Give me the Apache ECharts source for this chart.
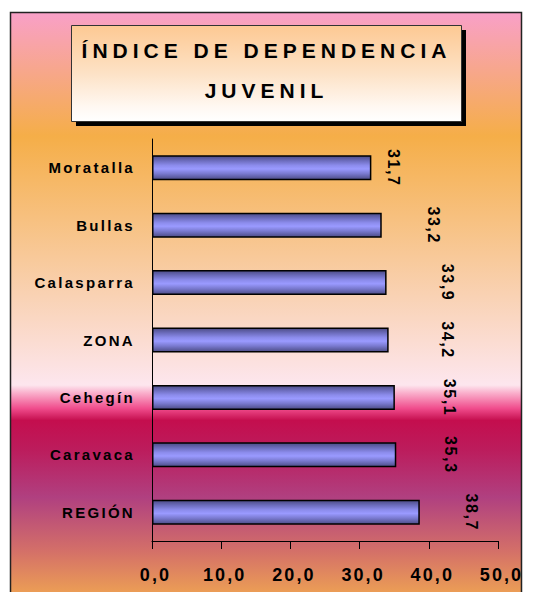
<!DOCTYPE html>
<html>
<head>
<meta charset="utf-8">
<script src="https://cdn.jsdelivr.net/npm/echarts@6/dist/echarts.min.js"></script>
<style>
  html, body { margin: 0; padding: 0; background: #ffffff; }
  #chart { width: 533px; height: 592px; }
</style>
</head>
<body>
<div id="chart"></div>
<script>
// ---- data ----
const titleLines = ['ÍNDICE DE DEPENDENCIA', 'JUVENIL'];
const categories = ['Moratalla', 'Bullas', 'Calasparra', 'ZONA', 'Cehegín', 'Caravaca', 'REGIÓN'];
const values = [31.7, 33.2, 33.9, 34.2, 35.1, 35.3, 38.7];
const xTicks = [0, 10, 20, 30, 40, 50];

// ---- styling ----
const FONT = '"Liberation Sans", Arial, Helvetica, sans-serif';
const labelGap = [22, 52, 61, 59, 55, 54, 52];
const spacingBySize = { 21: '5px', 15: '2.3px', 18: '2.1px', 16: '1.6px' };

const fmt = v => v.toFixed(1).replace('.', ',');

const barGradient = new echarts.graphic.LinearGradient(0, 0, 0, 1, [
  { offset: 0, color: '#4c4c86' },
  { offset: 0.2, color: '#6c6cbc' },
  { offset: 0.4, color: '#8c8cec' },
  { offset: 0.55, color: '#9a9aff' },
  { offset: 0.75, color: '#7a7ad0' },
  { offset: 1, color: '#4c4c86' }
]);

const bgGradient = new echarts.graphic.LinearGradient(0, 0, 0, 1, [
  { offset: 0, color: '#f9a0c8' },
  { offset: 0.206, color: '#f5ae48' },
  { offset: 0.473, color: '#f9d2b4' },
  { offset: 0.621, color: '#fde6ee' },
  { offset: 0.634, color: '#fab0cc' },
  { offset: 0.66, color: '#f04c8c' },
  { offset: 0.68, color: '#c40e4e' },
  { offset: 0.728, color: '#bc1c5c' },
  { offset: 0.808, color: '#b04080' },
  { offset: 0.898, color: '#d47068' },
  { offset: 0.986, color: '#f2aa50' },
  { offset: 1, color: '#f2aa50' }
]);

const titleGradient = new echarts.graphic.LinearGradient(0, 0, 0, 1, [
  { offset: 0, color: '#fdc993' },
  { offset: 0.5, color: '#fde2c6' },
  { offset: 0.85, color: '#fff8f2' },
  { offset: 1, color: '#ffffff' }
]);

const chart = echarts.init(document.getElementById('chart'), null, { renderer: 'svg', width: 533, height: 592 });

const option = {
  animation: false,
  backgroundColor: '#ffffff',
  graphic: [
    {
      type: 'rect', z: -20, silent: true,
      shape: { x: 10.5, y: 12.5, width: 511, height: 600 },
      style: { fill: bgGradient, stroke: '#222222', lineWidth: 1.5 }
    },
    {
      type: 'rect', z: -10, silent: true,
      shape: { x: 76, y: 30, width: 390, height: 96 },
      style: { fill: '#000000' }
    },
    {
      type: 'rect', z: -9, silent: true,
      shape: { x: 71.5, y: 25.5, width: 390, height: 96 },
      style: { fill: titleGradient, stroke: '#333333', lineWidth: 1 }
    }
  ],
  title: {
    text: titleLines.join('\n'),
    left: 'center',
    top: 30,
    padding: 0,
    textStyle: {
      fontFamily: FONT, fontSize: 21, fontWeight: 'bold', color: '#000000', lineHeight: 40
    }
  },
  grid: { left: 152, top: 139, right: 35, bottom: 51, containLabel: false },
  xAxis: {
    type: 'value',
    min: xTicks[0],
    max: xTicks[xTicks.length - 1],
    interval: xTicks[1] - xTicks[0],
    axisLine: { show: true, lineStyle: { color: '#000000', width: 1 } },
    axisTick: { show: true, length: 8, lineStyle: { color: '#000000', width: 1 } },
    splitLine: { show: false },
    axisLabel: {
      formatter: v => fmt(v),
      fontFamily: FONT, fontSize: 18, fontWeight: 'bold', color: '#000000',
      margin: 25, padding: [0, 0, 0, 7]
    }
  },
  yAxis: {
    type: 'category',
    data: categories,
    inverse: true,
    axisLine: { show: true, lineStyle: { color: '#000000', width: 1 } },
    axisTick: { show: false },
    splitLine: { show: false },
    axisLabel: {
      fontFamily: FONT, fontSize: 15, fontWeight: 'bold', color: '#000000', margin: 17
    }
  },
  series: [{
    type: 'bar',
    barWidth: 25,
    data: values.map((v, i) => ({ value: v, label: { distance: labelGap[i] } })),
    itemStyle: { color: barGradient, borderColor: '#000000', borderWidth: 1.5 },
    label: {
      show: true,
      position: 'right',
      rotate: -90,
      align: 'center',
      verticalAlign: 'middle',
      formatter: p => fmt(p.value),
      fontFamily: FONT, fontSize: 16, fontWeight: 'bold', color: '#000000'
    }
  }]
};

chart.setOption(option);

function applySpacing() {
  document.querySelectorAll('#chart svg text').forEach(el => {
    const size = Math.round(parseFloat(getComputedStyle(el).fontSize));
    if (spacingBySize[size]) el.style.letterSpacing = spacingBySize[size];
  });
}
chart.on('finished', applySpacing);
applySpacing();
setTimeout(applySpacing, 50);
setTimeout(applySpacing, 300);
</script>
</body>
</html>
